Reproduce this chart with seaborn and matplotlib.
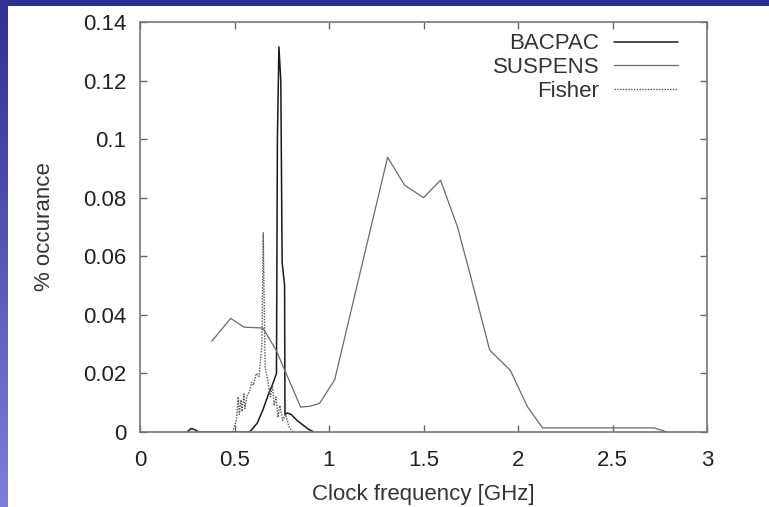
import numpy as np
import pandas as pd
import seaborn as sns
import matplotlib
matplotlib.use("Agg")
import matplotlib.pyplot as plt
from matplotlib.patches import Rectangle
from matplotlib.colors import LinearSegmentedColormap

# ---------------- data ----------------
bacpac_x = [0.25, 0.27, 0.29, 0.31, 0.45, 0.58, 0.62, 0.65, 0.68, 0.70, 0.722, 0.727, 0.735,
            0.745, 0.752, 0.765, 0.767, 0.78, 0.80, 0.83, 0.86, 0.89, 0.92]
bacpac_y = [0.0, 0.0012, 0.0008, 0.0, 0.0, 0.0, 0.003, 0.0075, 0.013, 0.016, 0.02, 0.10, 0.1315,
            0.12, 0.058, 0.05, 0.006, 0.0065, 0.006, 0.004, 0.0025, 0.001, 0.0]

suspens_x = [0.38, 0.48, 0.55, 0.65, 0.72, 0.80, 0.85, 0.90, 0.95, 1.03, 1.2, 1.31, 1.40,
             1.50, 1.59, 1.68, 1.75, 1.85, 1.96, 2.05, 2.13, 2.72, 2.79]
suspens_y = [0.031, 0.0388, 0.0358, 0.0355, 0.028, 0.016, 0.0085, 0.0088, 0.0098, 0.0178,
             0.064, 0.0938, 0.0843, 0.080, 0.086, 0.070, 0.053, 0.028, 0.021, 0.0086, 0.0014,
             0.0014, 0.0]

fisher_x = [0.49, 0.51, 0.52, 0.525, 0.535, 0.54, 0.55, 0.555, 0.565, 0.58, 0.59, 0.60, 0.615,
            0.63, 0.645, 0.652, 0.662, 0.675, 0.69, 0.70, 0.71, 0.72, 0.73, 0.74, 0.755, 0.77,
            0.79, 0.81]
fisher_y = [0.0, 0.004, 0.012, 0.006, 0.011, 0.007, 0.013, 0.008, 0.012, 0.014, 0.017, 0.016,
            0.02, 0.019, 0.03, 0.068, 0.022, 0.018, 0.012, 0.016, 0.009, 0.012, 0.005, 0.009,
            0.004, 0.006, 0.0015, 0.0]

x_ticks = [0, 0.5, 1, 1.5, 2, 2.5, 3]
x_tick_labels = ["0", "0.5", "1", "1.5", "2", "2.5", "3"]
y_ticks = [0, 0.02, 0.04, 0.06, 0.08, 0.1, 0.12, 0.14]
y_tick_labels = ["0", "0.02", "0.04", "0.06", "0.08", "0.1", "0.12", "0.14"]

# ---------------- style ----------------
sns.set_theme(style="ticks")
plt.rcParams["font.family"] = ["Liberation Sans", "DejaVu Sans"]

fig = plt.figure(figsize=(7.69, 5.07), dpi=100)
fig.patch.set_facecolor("white")

# slide background: top band + left gradient strip
fig.patches.append(Rectangle((0, 1 - 6 / 507), 1, 6 / 507, transform=fig.transFigure,
                             facecolor="#2e3192", edgecolor="none", zorder=0))
bg = fig.add_axes([0, 0, 8 / 769, 1 - 6 / 507])
grad = np.linspace(0, 1, 256).reshape(-1, 1)
cmap = LinearSegmentedColormap.from_list("slide", ["#7c7edc", "#2e3192"])
bg.imshow(grad, aspect="auto", cmap=cmap, origin="lower", extent=[0, 1, 0, 1])
bg.set_axis_off()

ax = fig.add_axes([140 / 769, 75 / 507, 567 / 769, 410 / 507])

df_b = pd.DataFrame({"x": bacpac_x, "y": bacpac_y})
df_s = pd.DataFrame({"x": suspens_x, "y": suspens_y})
df_f = pd.DataFrame({"x": fisher_x, "y": fisher_y})

sns.lineplot(data=df_b, x="x", y="y", ax=ax, color="#1a1a1a", lw=1.1, sort=False,
             estimator=None, label="BACPAC")
sns.lineplot(data=df_s, x="x", y="y", ax=ax, color="#6a6a6a", lw=0.9, sort=False,
             estimator=None, label="SUSPENS")
sns.lineplot(data=df_f, x="x", y="y", ax=ax, color="#555555", lw=1.0, sort=False,
             estimator=None, label="Fisher", linestyle=(0, (1, 1)))

ax.set_xlim(0, 3)
ax.set_ylim(0, 0.14)
ax.set_xticks(x_ticks)
ax.set_xticklabels(x_tick_labels)
ax.set_yticks(y_ticks)
ax.set_yticklabels(y_tick_labels)
ax.tick_params(direction="in", length=5, width=1, color="#666666", top=True, right=True,
               labelsize=16, labelcolor="#222222")
ax.tick_params(axis="x", pad=13)
ax.tick_params(axis="y", pad=10)
for s in ax.spines.values():
    s.set_color("#777777")
    s.set_linewidth(1.2)
    s.set_visible(True)

ax.set_xlabel("Clock frequency [GHz]", fontsize=16, color="#333333", labelpad=9)
ax.set_ylabel("% occurance", fontsize=16, color="#333333", labelpad=20)

leg = ax.legend(loc="upper right", bbox_to_anchor=(0.949, 0.972), frameon=False,
                markerfirst=False, fontsize=16, handlelength=2.9, handletextpad=0.65,
                labelspacing=0.12, borderaxespad=0, borderpad=0)
for t in leg.get_texts():
    t.set_color("#333333")

fig.savefig("out.png", dpi=100, facecolor="white")
